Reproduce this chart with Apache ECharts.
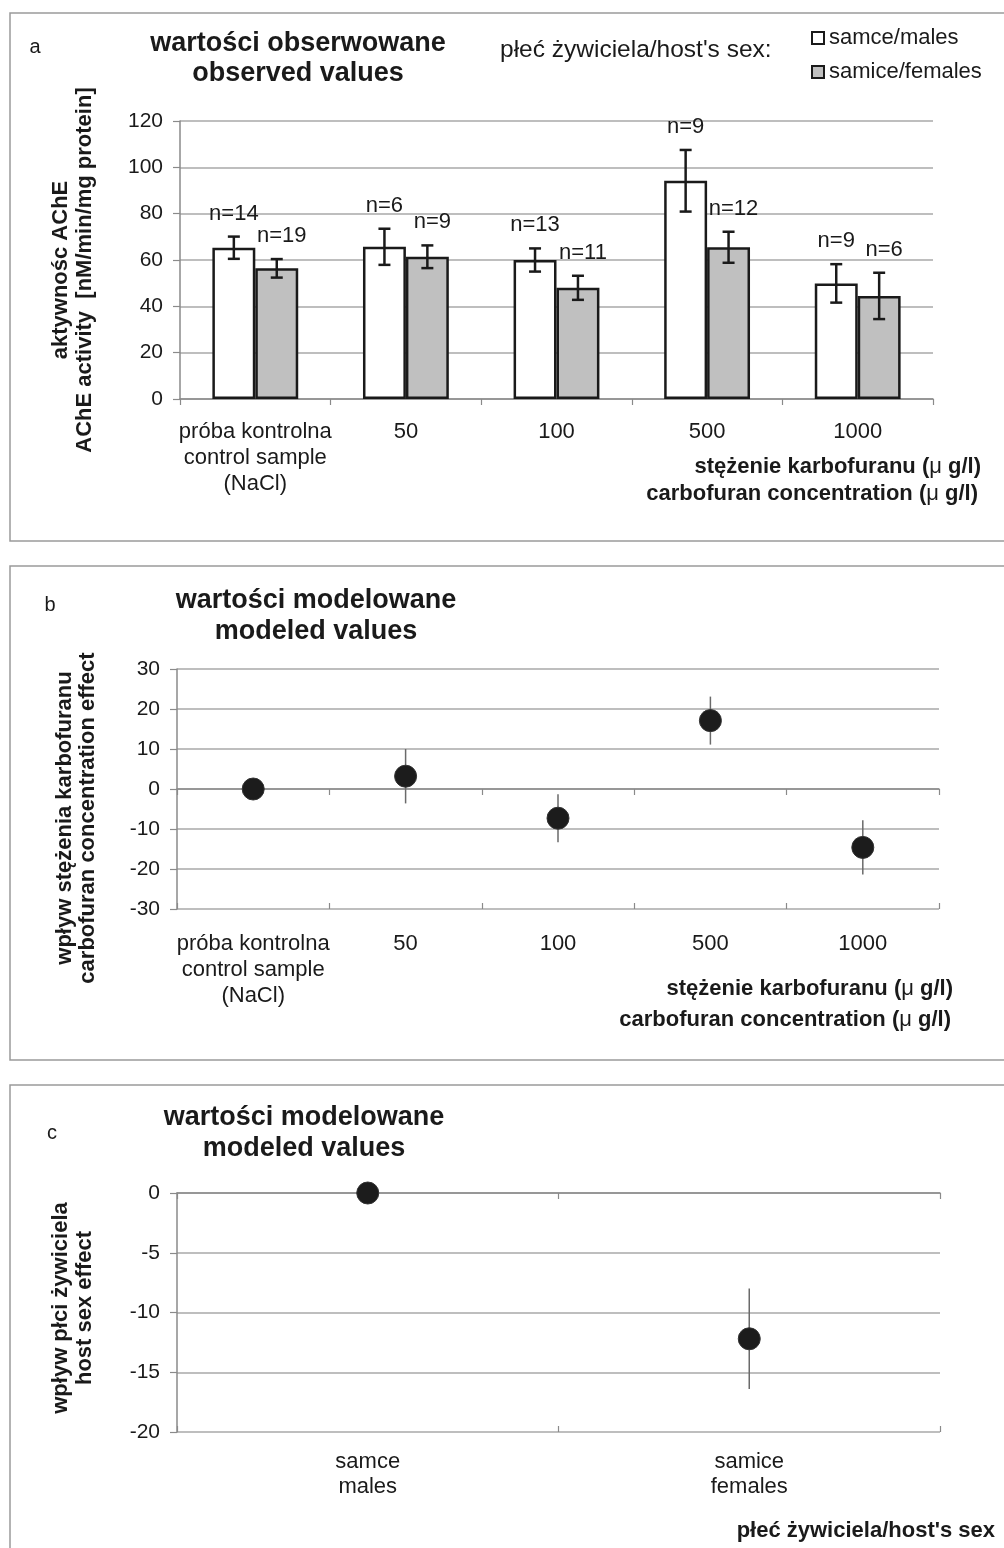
<!DOCTYPE html>
<html>
<head>
<meta charset="utf-8">
<script src="https://cdn.jsdelivr.net/npm/echarts/dist/echarts.min.js"></script>
<style>
  html, body { margin: 0; padding: 0; background: #fff; }
  #chart { width: 1004px; height: 1548px; }
</style>
</head>
<body>
<div id="chart"></div>
<script>
// ---- data ----
const concentrations = ['próba kontrolna\ncontrol sample\n(NaCl)', '50', '100', '500', '1000'];

// observed AChE activity (mean ± error), males and females
const maleMean   = [65.3, 65.7, 60.0, 94.2, 49.9];
const maleErr    = [4.8, 7.8, 5.0, 13.3, 8.3];
const maleN      = [14, 6, 13, 9, 9];
const femaleMean = [56.4, 61.4, 48.0, 65.5, 44.5];
const femaleErr  = [4.0, 4.9, 5.2, 6.7, 10.0];
const femaleN    = [19, 9, 11, 12, 6];

// modeled carbofuran concentration effect
const concEffect    = [0, 3.2, -7.3, 17.1, -14.6];
const concEffectErr = [0, 6.8, 6.0, 6.0, 6.8];

// modeled host sex effect
const sexes        = ['samce\nmales', 'samice\nfemales'];
const sexEffect    = [0, -12.2];
const sexEffectErr = [0, 4.2];

// value axis ranges
const activityAxis = { min: 0, max: 120, interval: 20 };
const concAxis     = { min: -30, max: 30, interval: 10 };
const sexAxis      = { min: -20, max: 0, interval: 5 };

// ---- styling ----
const FONT = '"Liberation Sans", Arial, Helvetica, sans-serif';
const INK = '#1a1a1a';
const AXIS_GREY = '#8a8a8a';
const GRID_GREY = '#a8a8a8';
const BAR_GAP = 0.43;
const TXT = 22;      // regular annotation text
const TICK = 21;     // value axis tick labels
const BOLD = 22;     // axis titles
const HEAD = 27;     // panel headings

const chart = echarts.init(document.getElementById('chart'), null, { renderer: 'canvas' });

function valueAxis(gridIndex, range) {
  return {
    type: 'value', gridIndex, min: range.min, max: range.max, interval: range.interval,
    axisLine: { show: true, lineStyle: { color: AXIS_GREY, width: 1.5 } },
    axisTick: { show: true, length: 7, lineStyle: { color: AXIS_GREY, width: 1.2 } },
    splitLine: { show: true, lineStyle: { color: GRID_GREY, width: 1.5 } },
    axisLabel: { fontSize: TICK, color: INK, fontFamily: FONT, margin: 17 }
  };
}

function labelAxis(gridIndex, cats, margin, lineHeight) {
  return {
    type: 'category', gridIndex, data: cats, position: 'bottom',
    axisLine: { show: false, onZero: false },
    axisTick: { show: false },
    splitLine: { show: false },
    axisLabel: { interval: 0, fontSize: TXT, color: INK, fontFamily: FONT, margin, lineHeight }
  };
}

function zeroAxis(gridIndex, cats, inside, showLine) {
  return {
    type: 'category', gridIndex, data: cats, position: 'bottom',
    axisLine: { show: showLine, onZero: true, lineStyle: { color: AXIS_GREY, width: 1.5 } },
    axisTick: { show: true, inside, length: 6, interval: 0, lineStyle: { color: AXIS_GREY, width: 1.2 } },
    axisLabel: { show: false },
    splitLine: { show: false }
  };
}

// error bars with caps and "n=" labels for grouped bars
function groupedErrorBars(means, errs, ns, side) {
  return {
    type: 'custom', xAxisIndex: 0, yAxisIndex: 0, z: 5, silent: true,
    data: means.map((m, i) => [i, m - errs[i], m + errs[i], ns[i]]),
    encode: { x: 0, y: [1, 2] },
    renderItem(params, api) {
      const band = api.size([1, 0])[0];
      const barW = band * (1 - BAR_GAP) / 2;
      const dx = side * barW / 2;
      const lo = api.coord([api.value(0), api.value(1)]);
      const hi = api.coord([api.value(0), api.value(2)]);
      const x = lo[0] + dx;
      const cap = 6;
      const st = { stroke: INK, lineWidth: 2.5 };
      return {
        type: 'group',
        children: [
          { type: 'line', shape: { x1: x, y1: lo[1], x2: x, y2: hi[1] }, style: st },
          { type: 'line', shape: { x1: x - cap, y1: lo[1], x2: x + cap, y2: lo[1] }, style: st },
          { type: 'line', shape: { x1: x - cap, y1: hi[1], x2: x + cap, y2: hi[1] }, style: st },
          {
            type: 'text',
            style: {
              text: 'n=' + api.value(3), x: x + (side > 0 ? 5 : 0), y: hi[1] - 12,
              align: 'center', verticalAlign: 'bottom',
              fill: INK, fontSize: TXT, fontFamily: FONT
            }
          }
        ]
      };
    }
  };
}

// thin vertical error lines behind the modeled points
function plainErrorBars(xi, yi, means, errs) {
  return {
    type: 'custom', xAxisIndex: xi, yAxisIndex: yi, z: 2, silent: true,
    data: means.map((m, i) => [i, m - errs[i], m + errs[i]]),
    encode: { x: 0, y: [1, 2] },
    renderItem(params, api) {
      const lo = api.coord([api.value(0), api.value(1)]);
      const hi = api.coord([api.value(0), api.value(2)]);
      return {
        type: 'line',
        shape: { x1: lo[0], y1: lo[1], x2: hi[0], y2: hi[1] },
        style: { stroke: '#6a6a6a', lineWidth: 1.5 }
      };
    }
  };
}

function txt(x, y, text, size, bold, align) {
  return {
    type: 'text', x, y, silent: true,
    style: {
      text, fontSize: size, fontWeight: bold ? 'bold' : 'normal', fontFamily: FONT,
      fill: INK, align: align || 'center', verticalAlign: 'middle'
    }
  };
}

function vtxt(x, y, text, size, lineHeight) {
  return {
    type: 'text', x, y, rotation: Math.PI / 2, silent: true,
    style: {
      text, fontSize: size, fontWeight: 'bold', fontFamily: FONT, lineHeight,
      fill: INK, align: 'center', verticalAlign: 'middle'
    }
  };
}

function unitTxt(x, y, pre) {
  return {
    type: 'text', x, y, silent: true,
    style: {
      text: '{b|' + pre + ' (}{m|\u03bc}{b| g/l)}',
      align: 'right', verticalAlign: 'middle',
      rich: {
        b: { fontSize: BOLD, fontWeight: 'bold', fontFamily: FONT, fill: INK },
        m: { fontSize: BOLD, fontWeight: 'normal', fontFamily: FONT, fill: INK }
      }
    }
  };
}

function box(y, h) {
  return {
    type: 'rect', silent: true,
    shape: { x: 10, y, width: 1010, height: h },
    style: { fill: 'none', stroke: '#9a9a9a', lineWidth: 1.5 }
  };
}

const option = {
  animation: false,
  backgroundColor: '#fff',
  textStyle: { fontFamily: FONT },
  legend: {
    left: 811, top: 26, orient: 'vertical', itemWidth: 12, itemHeight: 12, itemGap: 10,
    selectedMode: false, icon: 'rect', padding: 0,
    textStyle: { fontSize: TXT, color: INK, fontFamily: FONT, lineHeight: 24 },
    itemStyle: { borderWidth: 2, borderColor: INK },
    data: ['samce/males', 'samice/females']
  },
  grid: [
    { left: 180, top: 121, width: 753, height: 278, outerBoundsMode: 'none' },
    { left: 177, top: 669, width: 762, height: 240, outerBoundsMode: 'none' },
    { left: 177, top: 1193, width: 763, height: 239, outerBoundsMode: 'none' }
  ],
  xAxis: [
    {
      type: 'category', gridIndex: 0, data: concentrations,
      axisLine: { show: true, onZero: false, lineStyle: { color: AXIS_GREY, width: 1.5 } },
      axisTick: { show: true, length: 6, interval: 0, lineStyle: { color: AXIS_GREY, width: 1.2 } },
      axisLabel: { interval: 0, fontSize: TXT, color: INK, fontFamily: FONT, margin: 20, lineHeight: 26 },
      splitLine: { show: false }
    },
    labelAxis(1, concentrations, 22, 26),
    zeroAxis(1, concentrations, false, true),
    zeroAxis(1, concentrations, true, false),
    labelAxis(2, sexes, 17, 25),
    zeroAxis(2, sexes, false, true),
    zeroAxis(2, sexes, true, false)
  ],
  yAxis: [
    valueAxis(0, activityAxis),
    valueAxis(1, concAxis),
    valueAxis(2, sexAxis)
  ],
  series: [
    {
      name: 'samce/males', type: 'bar', xAxisIndex: 0, yAxisIndex: 0,
      data: maleMean, barGap: '0%', barCategoryGap: (BAR_GAP * 100) + '%',
      itemStyle: { color: '#ffffff', borderColor: INK, borderWidth: 2.5 }, z: 3
    },
    {
      name: 'samice/females', type: 'bar', xAxisIndex: 0, yAxisIndex: 0,
      data: femaleMean, barGap: '0%', barCategoryGap: (BAR_GAP * 100) + '%',
      itemStyle: { color: '#c0c0c0', borderColor: INK, borderWidth: 2.5 }, z: 3
    },
    groupedErrorBars(maleMean, maleErr, maleN, -1),
    groupedErrorBars(femaleMean, femaleErr, femaleN, 1),

    plainErrorBars(1, 1, concEffect, concEffectErr),
    {
      type: 'scatter', xAxisIndex: 1, yAxisIndex: 1, data: concEffect, symbolSize: 22, z: 4,
      itemStyle: { color: '#1c1c1c', borderColor: '#333', borderWidth: 1, opacity: 1 }
    },

    plainErrorBars(4, 2, sexEffect, sexEffectErr),
    {
      type: 'scatter', xAxisIndex: 4, yAxisIndex: 2, data: sexEffect, symbolSize: 22, z: 4,
      itemStyle: { color: '#1c1c1c', borderColor: '#333', borderWidth: 1, opacity: 1 }
    }
  ],
  graphic: [
    box(13, 528),
    box(566, 494),
    box(1085, 480),

    // panel a
    txt(35, 47, 'a', 20, false),
    txt(298, 44, 'wartości obserwowane', HEAD, true),
    txt(298, 74, 'observed values', HEAD, true),
    txt(500, 50, "płeć żywiciela/host's sex:", 24.5, false, 'left'),
    vtxt(73, 270, 'aktywnośc AChE\nAChE activity  [nM/min/mg protein]', BOLD, 24),
    unitTxt(981, 467, 'stężenie karbofuranu'),
    unitTxt(978, 494, 'carbofuran concentration'),

    // panel b
    txt(50, 605, 'b', 20, false),
    txt(316, 601, 'wartości modelowane', HEAD, true),
    txt(316, 632, 'modeled values', HEAD, true),
    vtxt(76, 818, 'wpływ stężenia karbofuranu\ncarbofuran concentration effect', BOLD, 23),
    unitTxt(953, 989, 'stężenie karbofuranu'),
    unitTxt(951, 1020, 'carbofuran concentration'),

    // panel c
    txt(52, 1133, 'c', 20, false),
    txt(304, 1118, 'wartości modelowane', HEAD, true),
    txt(304, 1149, 'modeled values', HEAD, true),
    vtxt(73, 1308, 'wpływ płci żywiciela\nhost sex effect', BOLD, 24),
    txt(995, 1531, "płeć żywiciela/host's sex", BOLD, true, 'right')
  ]
};

chart.setOption(option);
</script>
</body>
</html>
